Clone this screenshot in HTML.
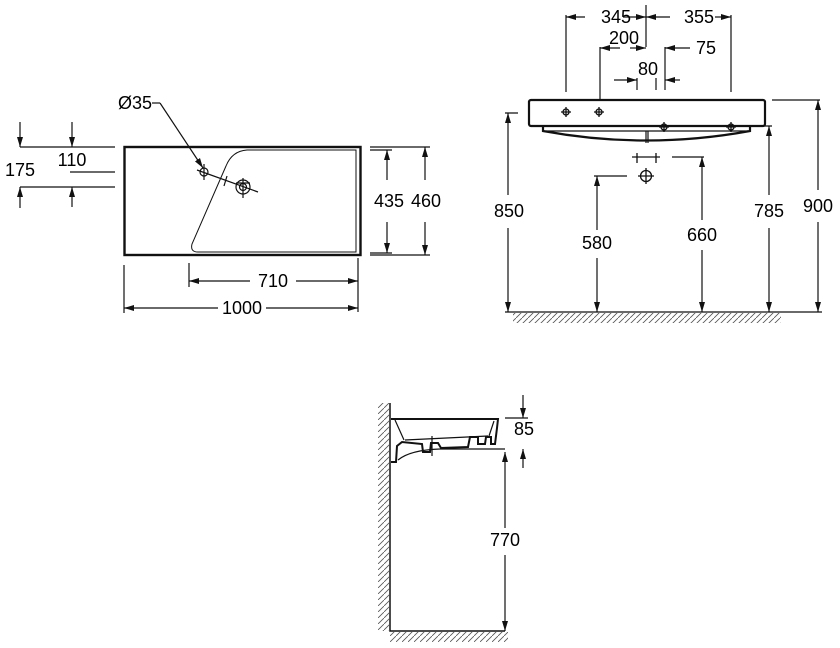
<!DOCTYPE html>
<html><head><meta charset="utf-8"><style>
html,body{margin:0;padding:0;background:#fff;}
svg{display:block}
text{font-family:"Liberation Sans",Arial,sans-serif;font-size:18px;fill:#000;text-anchor:middle;}
</style></head><body>
<svg width="840" height="648" viewBox="0 0 840 648" xmlns="http://www.w3.org/2000/svg">
<defs>
<marker id="a" viewBox="0 0 10 10" refX="10" refY="5" markerWidth="10" markerHeight="10" orient="auto-start-reverse" markerUnits="userSpaceOnUse"><path d="M0,2 L10,5 L0,8 Z" fill="#111"/></marker>
<pattern id="h" width="6" height="6" patternUnits="userSpaceOnUse"><path d="M-1,7 L7,-1" stroke="#555" stroke-width="0.8"/></pattern>
</defs>
<g stroke="#111" stroke-width="1.2" fill="none">
<!-- PLAN VIEW -->
<rect x="124.5" y="147" width="236" height="108" stroke-width="2.4"/>
<path d="M247,150 L356,150 L356,252 L198,252 Q190,252 192,244 L226,166 Q232,151 247,150 Z" stroke-width="1"/>
<circle cx="204" cy="172" r="4"/><path d="M197,170 L258,192 M204,164 L204,180"/>
<circle cx="243" cy="187" r="7"/><circle cx="243" cy="187" r="3.5"/><path d="M243,178 L243,198 M236,183 L250,183"/>
<path d="M227,176 L224,186"/>
<path d="M160,103 L203,168" marker-end="url(#a)"/><path d="M152,103 L160,103"/>
<path d="M20,147 L115,147 M70,172 L115,172 M20,187 L115,187"/>
<path d="M20,122 L20,147" marker-end="url(#a)"/><path d="M72,122 L72,147" marker-end="url(#a)"/>
<path d="M72,207 L72,187" marker-end="url(#a)"/><path d="M20,208 L20,187" marker-end="url(#a)"/>
<path d="M370,150 L392,150 M370,253 L392,253 M370,147 L430,147 M370,255 L430,255"/>
<path d="M387,180 L387,150" marker-end="url(#a)"/><path d="M387,222 L387,253" marker-end="url(#a)"/>
<path d="M425,180 L425,147" marker-end="url(#a)"/><path d="M425,222 L425,255" marker-end="url(#a)"/>
<path d="M189,263 L189,287 M358,258 L358,312 M124,265 L124,313"/>
<path d="M250,281 L189,281" marker-end="url(#a)"/><path d="M296,281 L358,281" marker-end="url(#a)"/>
<path d="M218,308 L124,308" marker-end="url(#a)"/><path d="M266,308 L358,308" marker-end="url(#a)"/>

<!-- ELEVATION -->
<rect x="529" y="100" width="236" height="26" rx="2" stroke-width="2.2"/>
<path d="M543,126 L543,131 Q646,150 750,131 L750,126" stroke-width="2.2"/>
<path d="M546,131 L748,131 M646,131 L646,143 M648,131 L648,143"/>
<g stroke-width="1.3">
<path d="M561,112 L571,112 M566,107 L566,117 M594,112 L604,112 M599,107 L599,117 M659,127 L669,127 M664,122 L664,132 M726,127 L736,127 M731,122 L731,132"/>
<circle cx="566" cy="112" r="3"/><circle cx="599" cy="112" r="3"/><circle cx="664" cy="127" r="3"/><circle cx="731" cy="127" r="3"/>
<circle cx="646" cy="176" r="5.5"/><path d="M638,176 L654,176 M646,168 L646,184"/>
<path d="M632,157 L660,157 M637,153 L637,163 M656,153 L656,163"/>
</g>
<path d="M566,15 L566,92 M646,5 L646,47 M731,15 L731,92 M600,47 L600,100 M665,47 L665,90 M637,78 L637,90 M656,78 L656,90"/>
<path d="M585,17 L566,17" marker-end="url(#a)"/><path d="M623,17 L646,17" marker-end="url(#a)"/>
<path d="M670,17 L646,17" marker-end="url(#a)"/><path d="M715,17 L731,17" marker-end="url(#a)"/>
<path d="M620,48 L600,48" marker-end="url(#a)"/><path d="M630,48 L646,48" marker-end="url(#a)"/>
<path d="M690,48 L665,48" marker-end="url(#a)"/>
<path d="M614,80 L637,80" marker-end="url(#a)"/><path d="M680,80 L665,80" marker-end="url(#a)"/>
<path d="M505,113 L518,113 M594,176 L627,176 M672,157 L704,157 M761,126 L772,126 M772,100 L820,100"/>
<path d="M508,195 L508,113" marker-end="url(#a)"/><path d="M508,228 L508,312" marker-end="url(#a)"/>
<path d="M597,230 L597,176" marker-end="url(#a)"/><path d="M597,258 L597,312" marker-end="url(#a)"/>
<path d="M702,220 L702,157" marker-end="url(#a)"/><path d="M702,250 L702,312" marker-end="url(#a)"/>
<path d="M769,195 L769,126" marker-end="url(#a)"/><path d="M769,228 L769,312" marker-end="url(#a)"/>
<path d="M818,190 L818,100" marker-end="url(#a)"/><path d="M818,222 L818,312" marker-end="url(#a)"/>
<path d="M505,312 L822,312"/>
<rect x="513" y="313" width="268" height="10" fill="url(#h)" stroke="none"/>

<!-- SIDE VIEW -->
<path d="M390,403 L390,631 L505,631" stroke-width="1.5"/>
<rect x="378" y="403" width="11" height="228" fill="url(#h)" stroke="none"/>
<rect x="390" y="632" width="118" height="10" fill="url(#h)" stroke="none"/>
<path d="M391,419 L498,419 L497,428 L495,444 L491,444 L491,437 L486,437 L485,444 L478,444 L478,437 L470,437 L468,447 L441,448 L438,443 L431,443 L430,452 L423,452 L422,444 L402,442 L397,446 L396,462 L391,462" stroke-width="2"/>
<path d="M395,420 L404,440 M494,421 L489,436 M405,440 L488,436 M398,460 Q410,450 440,449 L505,449"/>
<path d="M432,436 L432,456"/>
<path d="M505,418 L528,418"/>
<path d="M523,395 L523,418" marker-end="url(#a)"/><path d="M523,468 L523,449" marker-end="url(#a)"/>
<path d="M505,528 L505,452" marker-end="url(#a)"/><path d="M505,555 L505,631" marker-end="url(#a)"/>
</g>
<text x="135" y="109">Ø35</text>
<text x="72" y="166">110</text>
<text x="20" y="176">175</text>
<text x="389" y="207">435</text>
<text x="426" y="207">460</text>
<text x="273" y="287">710</text>
<text x="242" y="314">1000</text>
<text x="616" y="23">345</text>
<text x="699" y="23">355</text>
<text x="624" y="44">200</text>
<text x="706" y="54">75</text>
<text x="648" y="75">80</text>
<text x="509" y="217">850</text>
<text x="597" y="249">580</text>
<text x="702" y="241">660</text>
<text x="769" y="217">785</text>
<text x="818" y="212">900</text>
<text x="524" y="435">85</text>
<text x="505" y="546">770</text>
</svg>
</body></html>
